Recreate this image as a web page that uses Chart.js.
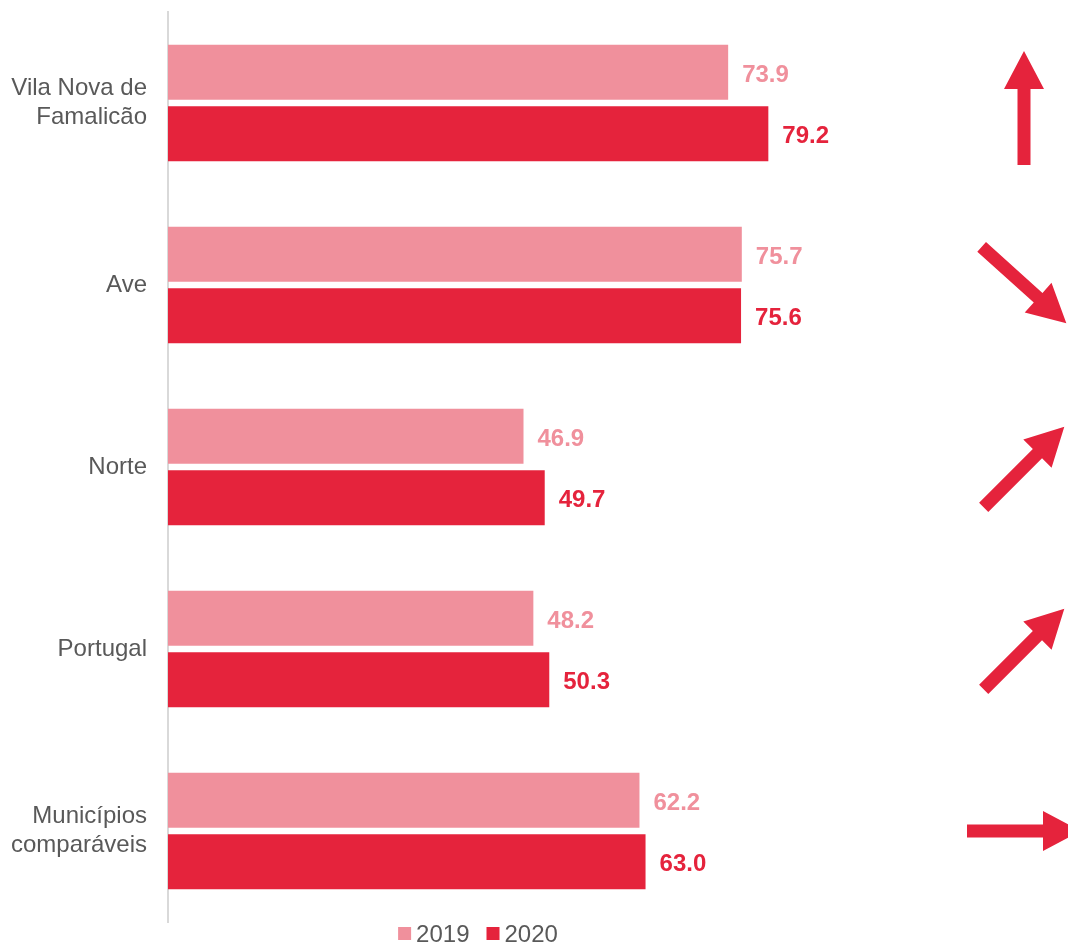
<!DOCTYPE html>
<html lang="pt">
<head>
<meta charset="UTF-8"/>
<title>Vila Nova de Famalicão — 2019 vs 2020</title>
<script src="https://cdn.jsdelivr.net/npm/chart.js"></script>
<style>
 html,body{margin:0;padding:0;background:#fff}
 #wrap{width:1068px;height:942px;position:relative}
</style>
</head>
<body>
<div id="wrap"><canvas id="chart"></canvas></div>

<script>
const categories = [['Vila Nova de','Famalicão'], 'Ave', 'Norte', 'Portugal', ['Municípios','comparáveis']];
const years = ['2019', '2020'];
const values2019 = [73.9, 75.7, 46.9, 48.2, 62.2];
const values2020 = [79.2, 75.6, 49.7, 50.3, 63.0];
// direction of the trend arrow on the right, in degrees (0 = right, -90 = up)
const trendAngles = [-90, 42, -45, -45, 0];

const PINK = '#f0909c', RED = '#e5233c', GREY = '#595959';
const FONT = "'Liberation Sans', Arial, sans-serif";

// value labels at the end of each bar
const valueLabels = {
  id: 'valueLabels',
  afterDatasetsDraw(chart){
    const ctx = chart.ctx;
    ctx.save();
    ctx.font = 'bold 24px ' + FONT;
    ctx.textBaseline = 'middle';
    ctx.textAlign = 'left';
    chart.data.datasets.forEach((ds, i) => {
      const meta = chart.getDatasetMeta(i);
      ctx.fillStyle = ds.backgroundColor;
      meta.data.forEach((bar, j) => {
        ctx.fillText(ds.data[j].toFixed(1), bar.x + 14, bar.y + 3);
      });
    });
    ctx.restore();
  }
};

// trend arrows to the right of the plot
const trendArrows = {
  id: 'trendArrows',
  afterDraw(chart){
    const ctx = chart.ctx, y = chart.scales.y;
    const cx = chart.chartArea.right + 98;
    const len = 114, head = 38, headW = 40, shaft = 13;
    ctx.save();
    ctx.fillStyle = RED;
    trendAngles.forEach((a, i) => {
      const cy = y.getPixelForValue(i) + (a === -90 ? 5 : 0);
      ctx.save();
      ctx.translate(cx, cy);
      ctx.rotate(a * Math.PI / 180);
      ctx.beginPath();
      ctx.moveTo(-len/2, -shaft/2);
      ctx.lineTo(len/2 - head, -shaft/2);
      ctx.lineTo(len/2 - head, -headW/2);
      ctx.lineTo(len/2, 0);
      ctx.lineTo(len/2 - head, headW/2);
      ctx.lineTo(len/2 - head, shaft/2);
      ctx.lineTo(-len/2, shaft/2);
      ctx.closePath();
      ctx.fill();
      ctx.restore();
    });
    ctx.restore();
  }
};

// small legend under the plot (box, 5px gap, text; 17px between items)
const bottomLegend = {
  id: 'bottomLegend',
  afterDraw(chart){
    const ctx = chart.ctx;
    const ds = chart.data.datasets;
    ctx.save();
    ctx.font = '24px ' + FONT;
    ctx.textBaseline = 'middle';
    const widths = ds.map(d => 13 + 5 + ctx.measureText(d.label).width);
    const total = widths.reduce((s, w) => s + w, 0) + 17 * (ds.length - 1);
    let x = (chart.chartArea.left + chart.chartArea.right) / 2 - 69 - total / 2;
    const yMid = chart.chartArea.bottom + 11;
    ds.forEach((d, i) => {
      ctx.fillStyle = d.backgroundColor;
      ctx.fillRect(x, yMid - 6, 13, 13);
      ctx.fillStyle = GREY;
      ctx.fillText(d.label, x + 18, yMid + 2);
      x += widths[i] + 17;
    });
    ctx.restore();
  }
};

new Chart(document.getElementById('chart'), {
  type: 'bar',
  data: {
    labels: categories,
    datasets: [
      {label: years[0], data: values2019, backgroundColor: PINK},
      {label: years[1], data: values2020, backgroundColor: RED}
    ]
  },
  options: {
    indexAxis: 'y',
    responsive: true,
    maintainAspectRatio: false,
    animation: false,
    categoryPercentage: 0.676,
    barPercentage: 0.894,
    layout: {padding: {top: 12, left: 0, right: 142, bottom: 20}},
    scales: {
      x: {display: false, min: 0, max: 100},
      y: {
        grid: {display: false, drawTicks: false},
        border: {display: true, color: '#d9d9d9', width: 2},
        ticks: {color: GREY, font: {family: FONT, size: 24}, padding: 21, lineHeight: 1.15},
        afterFit(s){ s.width = 168; s.paddingTop = 0; s.paddingBottom = 0; }
      }
    },
    plugins: {
      legend: {display: false},
      tooltip: {enabled: false}
    }
  },
  plugins: [valueLabels, trendArrows, bottomLegend]
});
</script>
</body>
</html>
